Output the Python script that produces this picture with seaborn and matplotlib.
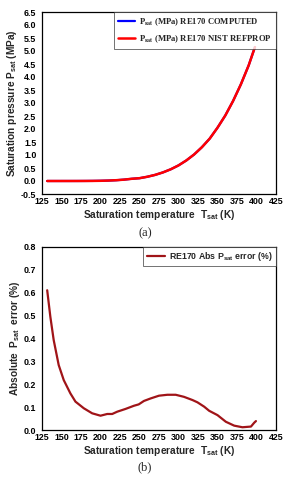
import matplotlib
matplotlib.use("Agg")
import matplotlib.pyplot as plt
from matplotlib.font_manager import FontProperties
import seaborn as sns
import pandas as pd

# ---- data ----
T_sat = [131.66, 140, 150, 160, 170, 180, 190, 200, 210, 220, 230, 240, 250,
         260, 270, 280, 290, 300, 310, 320, 330, 340, 350, 360, 370, 380, 390, 398]
P_nist = [0.0000022, 0.00001, 0.00005, 0.0002, 0.0006, 0.0016, 0.0038, 0.0083,
          0.0165, 0.030, 0.052, 0.085, 0.108, 0.163, 0.235, 0.330, 0.450, 0.600,
          0.790, 1.02, 1.30, 1.63, 2.05, 2.52, 3.08, 3.72, 4.45, 5.15]
P_computed = [0.0000022, 0.00001, 0.00005, 0.0002, 0.0006, 0.0016, 0.0038, 0.0083,
              0.0165, 0.030, 0.052, 0.085, 0.108, 0.163, 0.235, 0.330, 0.450, 0.600,
              0.790, 1.02, 1.30, 1.63, 2.05, 2.52, 3.08, 3.72, 4.45, 5.15]

T_err = [131.66, 135.7, 140.0, 146.4, 152.9, 161.4, 167.9, 178.6, 189.3, 200.0,
         208.6, 215.0, 221.4, 232.0, 242.9, 249.0, 255.7, 264.3, 275.0, 285.7,
         296.4, 307.0, 317.9, 324.3, 332.9, 339.3, 350.0, 360.7, 371.4, 382.0,
         392.9, 397.1, 399.3]
err = [0.611, 0.495, 0.393, 0.284, 0.218, 0.160, 0.124, 0.095, 0.073, 0.0625,
       0.070, 0.070, 0.080, 0.092, 0.106, 0.112, 0.127, 0.138, 0.150, 0.154,
       0.154, 0.145, 0.131, 0.121, 0.102, 0.084, 0.065, 0.036, 0.019, 0.012,
       0.015, 0.032, 0.039]

x_ticks = [125, 150, 175, 200, 225, 250, 275, 300, 325, 350, 375, 400, 425]
y_ticks_a = [-0.5, 0.0, 0.5, 1.0, 1.5, 2.0, 2.5, 3.0, 3.5, 4.0, 4.5, 5.0, 5.5, 6.0, 6.5]
y_ticks_b = [0.0, 0.1, 0.2, 0.3, 0.4, 0.5, 0.6, 0.7, 0.8]

lab_comp = r"P$_{\mathbf{sat}}$ (MPa) RE170 COMPUTED"
lab_nist = r"P$_{\mathbf{sat}}$ (MPa) RE170 NIST REFPROP"
lab_err = r"RE170 Abs P$_{\mathbf{sat}}$ error (%)"

# ---- style ----
sns.set_theme(style="white")
plt.rcParams["font.family"] = ["Liberation Sans", "DejaVu Sans"]
plt.rcParams["font.weight"] = "bold"
plt.rcParams["mathtext.fontset"] = "custom"
plt.rcParams["mathtext.rm"] = "Liberation Sans:bold"
plt.rcParams["mathtext.bf"] = "Liberation Sans:bold"
plt.rcParams["mathtext.it"] = "Liberation Sans:bold"
plt.rcParams["mathtext.default"] = "bf"

fig = plt.figure(figsize=(2.9, 4.8), dpi=100)
ax1 = fig.add_axes([42 / 290, 1 - 194 / 480, 234 / 290, 182 / 480])
ax2 = fig.add_axes([42 / 290, 1 - 430 / 480, 234 / 290, 183 / 480])

df_a = pd.DataFrame({"T": T_sat, "comp": P_computed, "nist": P_nist})
df_b = pd.DataFrame({"T": T_err, "err": err})

sns.lineplot(data=df_a, x="T", y="comp", ax=ax1, color="#0000ff", lw=1.6, label=lab_comp)
sns.lineplot(data=df_a, x="T", y="nist", ax=ax1, color="#ff0000", lw=1.8, label=lab_nist)
sns.lineplot(data=df_b, x="T", y="err", ax=ax2, color="#a01418", lw=1.6, label=lab_err)

tick_fs = 6.4
lab_fs = 7.3
for ax, yt in ((ax1, y_ticks_a), (ax2, y_ticks_b)):
    ax.set_xlim(125, 425)
    ax.set_ylim(yt[0], yt[-1])
    ax.set_xticks(x_ticks)
    ax.set_xticklabels([str(v) for v in x_ticks], fontsize=tick_fs, fontweight="bold")
    ax.set_yticks(yt)
    ax.set_yticklabels([f"{v:.1f}" for v in yt], fontsize=tick_fs, fontweight="bold")
    ax.tick_params(axis="x", direction="in", length=2.5, width=0.8, pad=2.5, colors="black")
    ax.tick_params(axis="y", direction="out", length=2.5, width=0.8, pad=1.5, colors="black")
    for s in ax.spines.values():
        s.set_color("black")
        s.set_linewidth(0.9)
        s.set_visible(True)
    ax.set_xlabel("Saturation temperature  T$_{\\mathbf{sat}}$ (K)", fontsize=lab_fs,
                  fontweight="bold", labelpad=1)

ax1.set_ylabel("Saturation pressure P$_{\\mathbf{sat}}$ (MPa)", fontsize=lab_fs,
               fontweight="bold", labelpad=1.5)
ax2.set_ylabel("Absolute  P$_{\\mathbf{sat}}$  error (%)", fontsize=lab_fs,
               fontweight="bold", labelpad=1.5)

fp_serif = FontProperties(family="Liberation Serif", weight="bold", size=6.2,
                          math_fontfamily="stix")
leg1 = ax1.legend(loc="upper right", prop=fp_serif, frameon=True, fancybox=False,
                  borderaxespad=0, handlelength=1.9, handletextpad=0.5,
                  borderpad=0.5, labelspacing=0.6)
leg1.get_frame().set_edgecolor("#333333")
leg1.get_frame().set_linewidth(0.6)

fp_sans = FontProperties(family="Liberation Sans", weight="bold", size=6.3)
leg2 = ax2.legend(loc="upper right", prop=fp_sans, frameon=True, fancybox=False,
                  borderaxespad=0, handlelength=2.1, handletextpad=0.5,
                  borderpad=0.35)
leg2.get_frame().set_edgecolor("#333333")
leg2.get_frame().set_linewidth(0.6)

fig.text(145 / 290, 1 - 233 / 480, "(a)", ha="center", va="center",
         fontsize=9, family="Liberation Serif", fontweight="normal")
fig.text(145 / 290, 1 - 467 / 480, "(b)", ha="center", va="center",
         fontsize=9, family="Liberation Serif", fontweight="normal")

fig.savefig("out.png", dpi=100)
